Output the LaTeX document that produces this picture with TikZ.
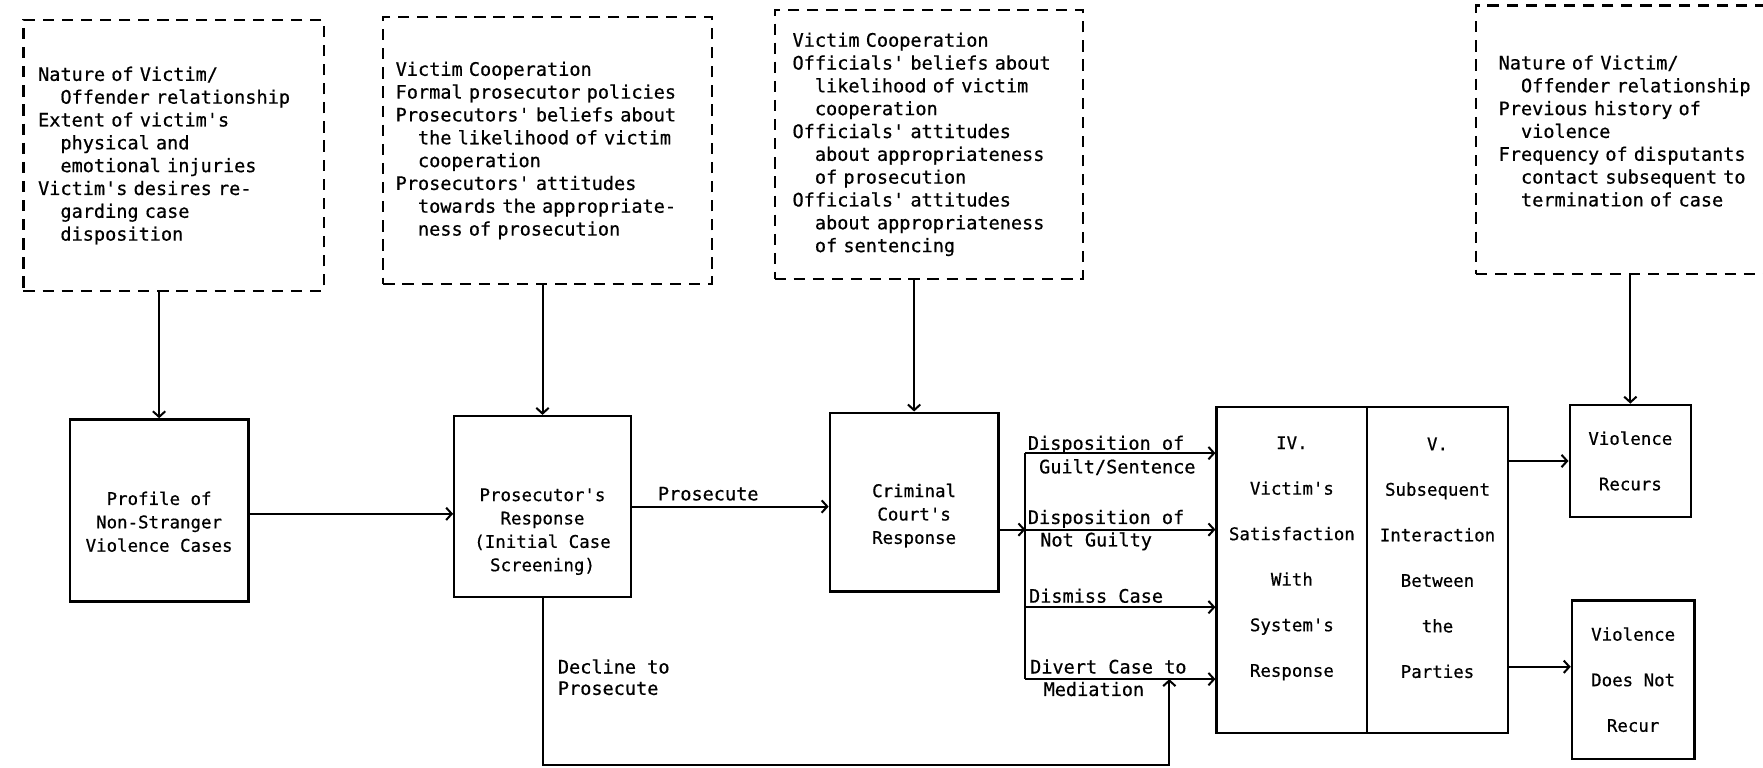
\documentclass[tikz,border=0pt]{standalone}
\usepackage{fontspec}
\setmonofont{DejaVu Sans Mono}[UprightFeatures={FakeBold=0.6}]
\usetikzlibrary{arrows.meta,calc}
\newcommand\dfont{\ttfamily\fontsize{16.5}{20.3}\selectfont}
\newcommand\bfont{\ttfamily\fontsize{15.5}{20.8}\selectfont}
\newcommand\wfont{\ttfamily\fontsize{15.5}{40.5}\selectfont}
\newcommand\lfont{\ttfamily\fontsize{16.5}{19}\selectfont}
\newcommand\ind{\hspace*{1.204em}}
\newcommand\topstrut[1]{\rule{0pt}{#1pt}}
\newcommand\botstrut[1]{\rule[-#1pt]{0pt}{0pt}}
\begin{document}
\begin{tikzpicture}[x=1pt,y=-1pt,
  dbox/.style={draw, line width=1.8pt, dash pattern=on 10pt off 7pt, align=left, anchor=north west, inner ysep=0pt, font=\dfont},
  sbox/.style={draw, line width=2pt, align=center, inner sep=0pt, font=\bfont},
  wbox/.style={sbox, font=\wfont},
  conn/.style={line width=1.8pt},
  arr/.style={conn, -{Straight Barb[length=5pt,width=11pt]}},
  lab/.style={font=\lfont, inner sep=0pt, anchor=base west}]
\useasboundingbox (0,0) rectangle (1568,683);
\clip (0,0) rectangle (1568,683);

% dashed factor boxes
\node[dbox, minimum width=267, minimum height=241, text width=241, inner xsep=13] (d1) at (20,17)
 {Nature of Victim/\\\ind Offender relationship\\Extent of victim's\\\ind physical and\\\ind emotional injuries\\Victim's desires re-\\\ind garding case\\\ind disposition};
\node[dbox, minimum width=292, minimum height=238, text width=270, inner xsep=11] (d2) at (340,14)
 {Victim Cooperation\\Formal prosecutor policies\\Prosecutors' beliefs about\\\ind the likelihood of victim\\\ind cooperation\\Prosecutors' attitudes\\\ind towards the appropriate-\\\ind ness of prosecution};
\node[dbox, minimum width=274, minimum height=239, text width=242, inner xsep=16] (d3) at (688,8)
 {Victim Cooperation\\Officials' beliefs about\\\ind likelihood of victim\\\ind cooperation\\Officials' attitudes\\\ind about appropriateness\\\ind of prosecution\\Officials' attitudes\\\ind about appropriateness\\\ind of sentencing};
\node[dbox, minimum width=290, minimum height=239, text width=250, inner xsep=20] (d4) at (1312,4)
 {Nature of Victim/\\\ind Offender relationship\\Previous history of\\\ind violence\\Frequency of disputants\\\ind contact subsequent to\\\ind termination of case\botstrut{16}};

% solid boxes
\node[sbox, minimum width=159, minimum height=162] (prof) at (141.5,454) {\topstrut{32}Profile of\\Non-Stranger\\Violence Cases};
\node[sbox, minimum width=157, minimum height=161] (pros) at (482.5,450.5) {\topstrut{56}Prosecutor's\\Response\\(Initial Case\\Screening)};
\node[sbox, minimum width=150, minimum height=159] (crim) at (813,446.5) {\topstrut{36}Criminal\\Court's\\Response};
\node[wbox, minimum width=134, minimum height=290] (iv) at (1149,507) {IV.\\Victim's\\Satisfaction\\With\\System's\\Response\botstrut{24}};
\node[wbox, minimum width=125, minimum height=290] (v) at (1278.5,507) {V.\\Subsequent\\Interaction\\Between\\the\\Parties\botstrut{22}};
\node[wbox, minimum width=108, minimum height=100] (rec) at (1450,410) {Violence\\Recurs};
\node[wbox, minimum width=109, minimum height=141] (nrec) at (1452.5,604.5) {Violence\\Does Not\\Recur};

% factor arrows
\draw[arr] (d1.south -| prof.north) -- (prof.north);
\draw[arr] (d2.south -| pros.north) -- (pros.north);
\draw[arr] (d3.south -| crim.north) -- (crim.north);
\draw[arr] (d4.south -| rec.north) -- (rec.north);

% main flow
\draw[arr] (prof.east |- 0,457) -- (pros.west |- 0,457);
\draw[arr] (pros.east) -- (pros.east -| crim.west);
\node[lab] (lp) at (585,445) {Prosecute};

\coordinate (b1) at (912,403);
\coordinate (b2) at (912,471);
\coordinate (b3) at (912,540);
\coordinate (b4) at (912,604);
\draw[conn] (b1) -- (b4);
\draw[arr] (crim.east |- b2) -- (b2);
\draw[arr] (b1) -- (b1 -| iv.west);
\draw[arr] (b2) -- (b2 -| iv.west);
\draw[arr] (b3) -- (b3 -| iv.west);
\draw[arr] (b4) -- (b4 -| iv.west);

\node[lab] (l1a) at (914,400) {Disposition of};
\node[lab] (l1b) at (924,421) {Guilt/Sentence};
\node[lab] (l2a) at (914,466) {Disposition of};
\node[lab] (l2b) at (925,486) {Not Guilty};
\node[lab] (l3) at (915,536) {Dismiss Case};
\node[lab] (l4a) at (916,599) {Divert Case to};
\node[lab] (l4b) at (928,619) {Mediation};

% decline path
\coordinate (med) at (1040,604);
\coordinate (bot) at (1040,680);
\draw[arr] (pros.south) |- (bot) -- (med);
\node[lab] (ld1) at (496,599) {Decline to};
\node[lab] (ld2) at (496,618) {Prosecute};

% outcomes
\draw[arr] (v.east |- rec.west) -- (rec.west);
\draw[arr] (v.east |- 0,593) -- (nrec.west |- 0,593);
\end{tikzpicture}
\end{document}
